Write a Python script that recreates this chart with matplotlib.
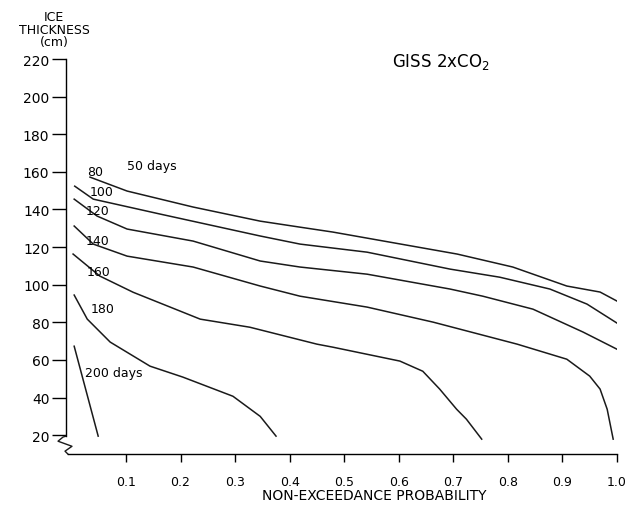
import matplotlib
matplotlib.use("Agg")
import matplotlib.pyplot as plt

# Ice thickness (cm) vs non-exceedance probability, one curve per ice-season length
p80 = [0.034, 0.102, 0.223, 0.346, 0.419, 0.479, 0.707, 0.809, 0.908, 0.969, 1.0]
t80 = [157.2, 149.8, 141.3, 133.8, 130.6, 128.0, 116.3, 109.4, 99.3, 96.1, 91.3]

p100 = [0.006, 0.04, 0.162, 0.346, 0.419, 0.542, 0.694, 0.785, 0.877, 0.945, 1.0]
t100 = [152.4, 145.5, 137.6, 125.9, 121.6, 117.3, 108.3, 104.0, 97.7, 89.7, 79.6]

p120 = [0.005, 0.047, 0.102, 0.223, 0.346, 0.419, 0.542, 0.694, 0.754, 0.846, 0.938, 1.0]
t120 = [145.5, 136.5, 129.6, 123.2, 112.6, 109.4, 105.6, 97.7, 93.9, 87.0, 74.8, 65.7]

p140 = [0.005, 0.04, 0.102, 0.223, 0.346, 0.419, 0.542, 0.663, 0.817, 0.908, 0.95, 0.969, 0.982, 0.993]
t140 = [131.2, 121.6, 115.2, 109.4, 99.3, 93.9, 88.1, 80.1, 68.4, 60.4, 51.4, 44.5, 33.8, 17.9]

p160 = [0.003, 0.052, 0.113, 0.236, 0.327, 0.45, 0.479, 0.602, 0.644, 0.675, 0.706, 0.724, 0.752]
t160 = [116.3, 104.6, 96.0, 81.7, 77.4, 68.4, 66.8, 59.4, 54.0, 44.5, 33.8, 28.5, 17.9]

p180 = [0.005, 0.029, 0.071, 0.144, 0.204, 0.296, 0.346, 0.375]
t180 = [94.5, 81.7, 69.5, 56.7, 50.9, 40.7, 30.0, 19.5]

p200 = [0.005, 0.049]
t200 = [67.3, 19.5]

curves = [(p80, t80), (p100, t100), (p120, t120), (p140, t140),
          (p160, t160), (p180, t180), (p200, t200)]

xticks = [0.1, 0.2, 0.3, 0.4, 0.5, 0.6, 0.7, 0.8, 0.9, 1.0]
yticks = [20, 40, 60, 80, 100, 120, 140, 160, 180, 200, 220]

fig = plt.figure(figsize=(6.37, 5.06), dpi=100)
ax = fig.add_axes([0.1036, 0.1008, 0.8650, 0.7806])

for px, ty in curves:
    ax.plot(px, ty, color="#1a1a1a", lw=1.1)

# curve labels
ax.text(0.102, 163.6, "50 days", fontsize=9, ha="left", va="center")
ax.text(0.043, 160.0, "80", fontsize=9, ha="center", va="center")
ax.text(0.056, 149.8, "100", fontsize=9, ha="center", va="center")
ax.text(0.047, 139.7, "120", fontsize=9, ha="center", va="center")
ax.text(0.047, 123.7, "140", fontsize=9, ha="center", va="center")
ax.text(0.05, 107.0, "160", fontsize=9, ha="center", va="center")
ax.text(0.058, 87.6, "180", fontsize=9, ha="center", va="center")
ax.text(0.025, 53.5, "200 days", fontsize=9, ha="left", va="center")

ax.text(0.677, 219, "GISS 2xCO$_2$", fontsize=12, ha="center", va="center")

ax.set_xlim(-0.01, 1.0)
ax.set_ylim(10, 220)
ax.set_xticks(xticks)
ax.set_xticklabels(["%.1f" % v for v in xticks], fontsize=9)
ax.set_yticks(yticks)
ax.set_yticklabels([str(v) for v in yticks], fontsize=10)
ax.tick_params(axis="y", direction="out", length=10, width=1, pad=2)
ax.tick_params(axis="x", direction="out", length=6, width=1, pad=9)

for s in ["top", "right"]:
    ax.spines[s].set_visible(False)
ax.spines["left"].set_bounds(19.5, 220)
ax.spines["left"].set_linewidth(1.0)
ax.spines["bottom"].set_bounds(-0.006, 1.0)
ax.spines["bottom"].set_linewidth(1.0)

# axis break zigzag at the bottom of the y axis
ax.plot([-0.0100, -0.0155, -0.0246, 0.001, -0.0118, -0.0063],
        [19.5, 19.0, 16.8, 14.1, 11.5, 9.9],
        color="#1a1a1a", lw=1.0, clip_on=False)

ax.set_xlabel("NON-EXCEEDANCE PROBABILITY", fontsize=10, va="center")
ax.xaxis.set_label_coords(0.56, -0.105)
fig.text(0.085, 0.94, "ICE\nTHICKNESS\n(cm)", fontsize=9, ha="center",
         va="center", linespacing=0.95)

fig.savefig("out.png", dpi=100)
